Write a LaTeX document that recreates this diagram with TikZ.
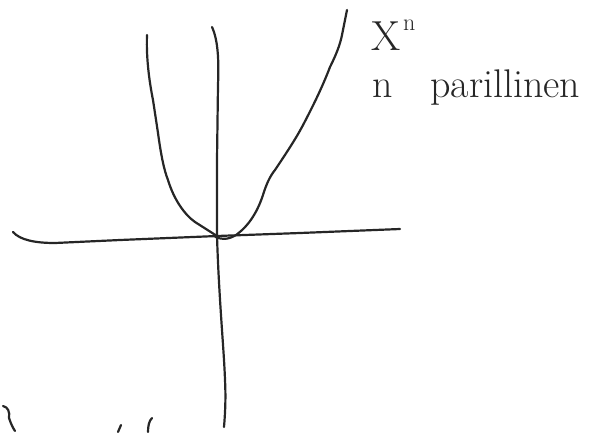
\documentclass[tikz,border=0pt]{standalone}
\begin{document}
\begin{tikzpicture}[x=1pt,y=-1pt,
  stroke/.style={line width=2.2pt,line cap=round,line join=round,black!85},
  hand/.style={inner sep=0pt,anchor=base west,black!85}]
\useasboundingbox (0,0) rectangle (605,432);
% horizontal axis
\draw[stroke] (13,232) .. controls (20,240) and (35,243) .. (55,243)
  -- (120,240) -- (217,236) -- (300,233) -- (400,229);
% vertical axis
\draw[stroke] (212,27) .. controls (218,40) and (219,60) .. (218,85)
  -- (217,160) -- (217,236) .. controls (219,300) and (224,350) .. (225,380)
  .. controls (226,400) and (225,415) .. (224,427);
% left branch
\draw[stroke] (147,35) .. controls (146,60) and (150,85) .. (153,100)
  -- (158,133) .. controls (161,155) and (164,170) .. (168,180)
  .. controls (174,200) and (185,215) .. (195,222)
  -- (217,236);
% bottom of curve
\draw[stroke] (214,236) .. controls (220,240) and (228,240) .. (236,235);
% right branch
\draw[stroke] (236,235) .. controls (250,225) and (258,210) .. (263,195)
  .. controls (266,185) and (270,176) .. (275,170)
  .. controls (285,155) and (295,140) .. (302,127)
  .. controls (312,108) and (322,88) .. (330,67)
  .. controls (336,55) and (340,45) .. (342,35)
  -- (347,10);
% labels
\node[hand,font=\fontsize{42}{42}\selectfont] (x) at (371,50) {X};
\node[hand,font=\fontsize{24}{24}\selectfont] (n) at (403,30) {n};
\node[hand,font=\fontsize{40}{40}\selectfont] (n2) at (372,97) {n};
\node[hand,font=\fontsize{40}{40}\selectfont] (t) at (430,97) {parillinen};
% cut-off fragments at bottom
\draw[stroke] (3,406) .. controls (8,407) and (10,412) .. (9,418)
  .. controls (11,424) and (13,428) .. (15,431);
\draw[stroke] (118,432) -- (121,425);
\draw[stroke] (148,432) .. controls (148,426) and (149,421) .. (152,418);
\end{tikzpicture}
\end{document}
